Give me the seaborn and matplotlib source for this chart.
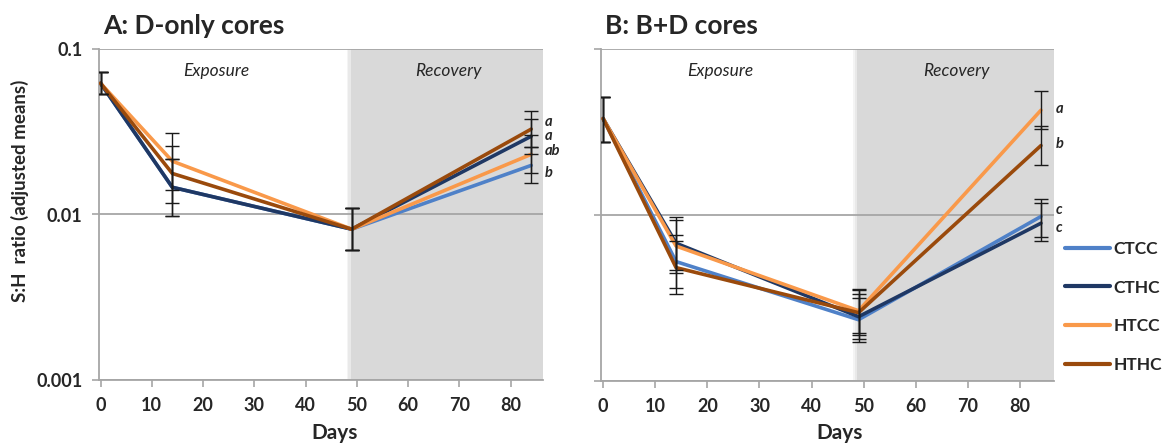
import numpy as np
import pandas as pd
import matplotlib
matplotlib.use("Agg")
import matplotlib.pyplot as plt
import matplotlib.transforms as mtransforms
import seaborn as sns

# ---------------- data ----------------
days = [0, 14, 49, 84]
treatments = ["CTCC", "CTHC", "HTCC", "HTHC"]
colors = ["#4F81C8", "#1F3864", "#F9994A", "#9A4A0C"]

# Panel A: D-only cores (adjusted means)
a_ctcc = [0.0621, 0.0146, 0.00815, 0.0198]
a_cthc = [0.0621, 0.0146, 0.00815, 0.0297]
a_htcc = [0.0621, 0.0210, 0.00815, 0.0231]
a_hthc = [0.0621, 0.0177, 0.00815, 0.0328]
a_ctcc_lo = [0.0532, 0.0098, 0.0061, 0.0155]
a_ctcc_hi = [0.0723, 0.0216, 0.0110, 0.0256]
a_cthc_lo = [0.0532, 0.0098, 0.0061, 0.0232]
a_cthc_hi = [0.0723, 0.0216, 0.0110, 0.0378]
a_htcc_lo = [0.0532, 0.0141, 0.0061, 0.0178]
a_htcc_hi = [0.0723, 0.0310, 0.0110, 0.0302]
a_hthc_lo = [0.0532, 0.01175, 0.0061, 0.0256]
a_hthc_hi = [0.0723, 0.0259, 0.0110, 0.0422]
a_letters = ["a", "a", "ab", "b"]
a_letter_y = [0.0364, 0.0297, 0.0241, 0.0178]

# Panel B: B+D cores (adjusted means)
b_ctcc = [0.0381, 0.00524, 0.00234, 0.0098]
b_cthc = [0.0381, 0.00676, 0.00244, 0.00892]
b_htcc = [0.0381, 0.00650, 0.00265, 0.0428]
b_hthc = [0.0381, 0.00482, 0.00258, 0.0262]
b_ctcc_lo = [0.0277, 0.00363, 0.00172, 0.00741]
b_ctcc_hi = [0.0515, 0.00757, 0.00318, 0.01253]
b_cthc_lo = [0.0277, 0.00468, 0.00179, 0.00695]
b_cthc_hi = [0.0515, 0.00977, 0.00332, 0.01178]
b_htcc_lo = [0.0277, 0.00450, 0.00195, 0.0329]
b_htcc_hi = [0.0515, 0.00939, 0.00360, 0.0557]
b_hthc_lo = [0.0277, 0.00334, 0.00190, 0.0201]
b_hthc_hi = [0.0515, 0.00697, 0.00351, 0.0343]
b_letters = ["a", "b", "c", "c"]
b_letter_y = [0.0434, 0.0267, 0.0107, 0.00840]

y_ticks = [0.001, 0.01, 0.1]
y_ticklabels = ["0.001", "0.01", "0.1"]
x_ticks = [0, 10, 20, 30, 40, 50, 60, 70, 80]

# ---------------- style ----------------
sns.set_style("white")
plt.rcParams["font.family"] = ["Lato", "DejaVu Sans"]

W, H = 1163, 448
fig = plt.figure(figsize=(W / 100, H / 100), dpi=100)

def frac_ax(l, r, t, b):
    return fig.add_axes([l / W, 1 - b / H, (r - l) / W, (b - t) / H])

axA = frac_ax(99, 543, 49, 380)
axB = frac_ax(601, 1054, 49, 381)

palette = dict(zip(treatments, colors))

def build_df(series):
    rows = []
    for t, vals in zip(treatments, series):
        for d, v in zip(days, vals):
            rows.append({"Days": d, "ratio": v, "Treatment": t})
    return pd.DataFrame(rows)

def draw_panel(ax, series, los, his, xlim, shade_start, letters, letter_y, show_ylabels, legend):
    df = build_df(series)
    ax.set_yscale("log")
    # shaded recovery region with soft edge
    ax.axvspan(shade_start, xlim[1], color="#D9D9D9", lw=0, zorder=0)
    ax.axvspan(shade_start - 0.45, shade_start, color="#E9E9E9", lw=0, zorder=0)
    ax.axvspan(shade_start - 0.8, shade_start - 0.45, color="#F4F4F4", lw=0, zorder=0)
    # horizontal gridlines
    for yv in y_ticks:
        ax.axhline(yv, color="#A6A6A6", lw=1.3, zorder=1)
    sns.lineplot(data=df, x="Days", y="ratio", hue="Treatment", hue_order=treatments,
                 palette=palette, estimator=None, linewidth=2.6, ax=ax,
                 legend=legend, zorder=3)
    for vals, lo, hi in zip(series, los, his):
        v = np.array(vals)
        yerr = np.vstack([v - np.array(lo), np.array(hi) - v])
        ax.errorbar(days, v, yerr=yerr, fmt="none", ecolor="#1a1a1a",
                    elinewidth=1.0, capsize=5.0, capthick=1.0, zorder=4)
    ax.set_xlim(*xlim)
    ax.set_ylim(0.001, 0.1)
    ax.set_xticks(x_ticks)
    ax.set_xticklabels([str(x) for x in x_ticks])
    ax.set_yticks(y_ticks)
    ax.yaxis.set_minor_locator(matplotlib.ticker.NullLocator())
    if show_ylabels:
        ax.set_yticklabels(y_ticklabels)
    else:
        ax.set_yticklabels([])
    ax.set_xlabel("")
    ax.set_ylabel("")
    for s in ["top", "right"]:
        ax.spines[s].set_visible(False)
    for s in ["left", "bottom"]:
        ax.spines[s].set_color("#A6A6A6")
        ax.spines[s].set_linewidth(1.3)
    ax.tick_params(axis="both", which="major", direction="out", length=5,
                   width=1.2, color="#A6A6A6", labelsize=13, pad=7,
                   left=True, bottom=True)
    for lab in ax.get_xticklabels() + ax.get_yticklabels():
        lab.set_fontweight("bold")
    ax.text(22.5, 0.074, "Exposure", style="italic", fontsize=12.5,
            ha="center", va="center")
    ax.text(67.8, 0.074, "Recovery", style="italic", fontsize=12.5,
            ha="center", va="center")
    trans = mtransforms.blended_transform_factory(ax.transAxes, ax.transData)
    for lt, ly in zip(letters, letter_y):
        ax.text(1.004, ly, lt, transform=trans, fontsize=10.5, fontweight="bold",
                style="italic", ha="left", va="center", clip_on=False)

draw_panel(axA, [a_ctcc, a_cthc, a_htcc, a_hthc],
           [a_ctcc_lo, a_cthc_lo, a_htcc_lo, a_hthc_lo],
           [a_ctcc_hi, a_cthc_hi, a_htcc_hi, a_hthc_hi],
           (-0.3, 86.3), 48.8, a_letters, a_letter_y, True, False)
draw_panel(axB, [b_ctcc, b_cthc, b_htcc, b_hthc],
           [b_ctcc_lo, b_cthc_lo, b_htcc_lo, b_hthc_lo],
           [b_ctcc_hi, b_cthc_hi, b_htcc_hi, b_hthc_hi],
           (-0.4, 86.5), 48.8, b_letters, b_letter_y, False, True)

sns.move_legend(axB, loc="upper left", bbox_to_anchor=(1065 / W, 1 - 241 / H),
                bbox_transform=fig.transFigure, frameon=False, title=None,
                handlelength=2.6, handletextpad=0.2, labelspacing=1.3,
                borderpad=0, borderaxespad=0,
                prop={"weight": "bold", "size": 12.5})
for line in axB.get_legend().get_lines():
    line.set_linewidth(3.0)

# titles and axis labels
fig.text(103 / W, 1 - 26 / H, "A: D-only cores", fontsize=19, fontweight="bold", ha="left", va="center")
fig.text(605 / W, 1 - 26 / H, "B: B+D cores", fontsize=19, fontweight="bold", ha="left", va="center")
fig.text(20 / W, 1 - 191 / H, "S:H  ratio (adjusted means)", fontsize=13.5, fontweight="bold",
         rotation=90, ha="center", va="center")
fig.text(335 / W, 1 - 433 / H, "Days", fontsize=15, fontweight="bold", ha="center", va="center")
fig.text(840 / W, 1 - 433 / H, "Days", fontsize=15, fontweight="bold", ha="center", va="center")

fig.savefig("out.png", dpi=100)
